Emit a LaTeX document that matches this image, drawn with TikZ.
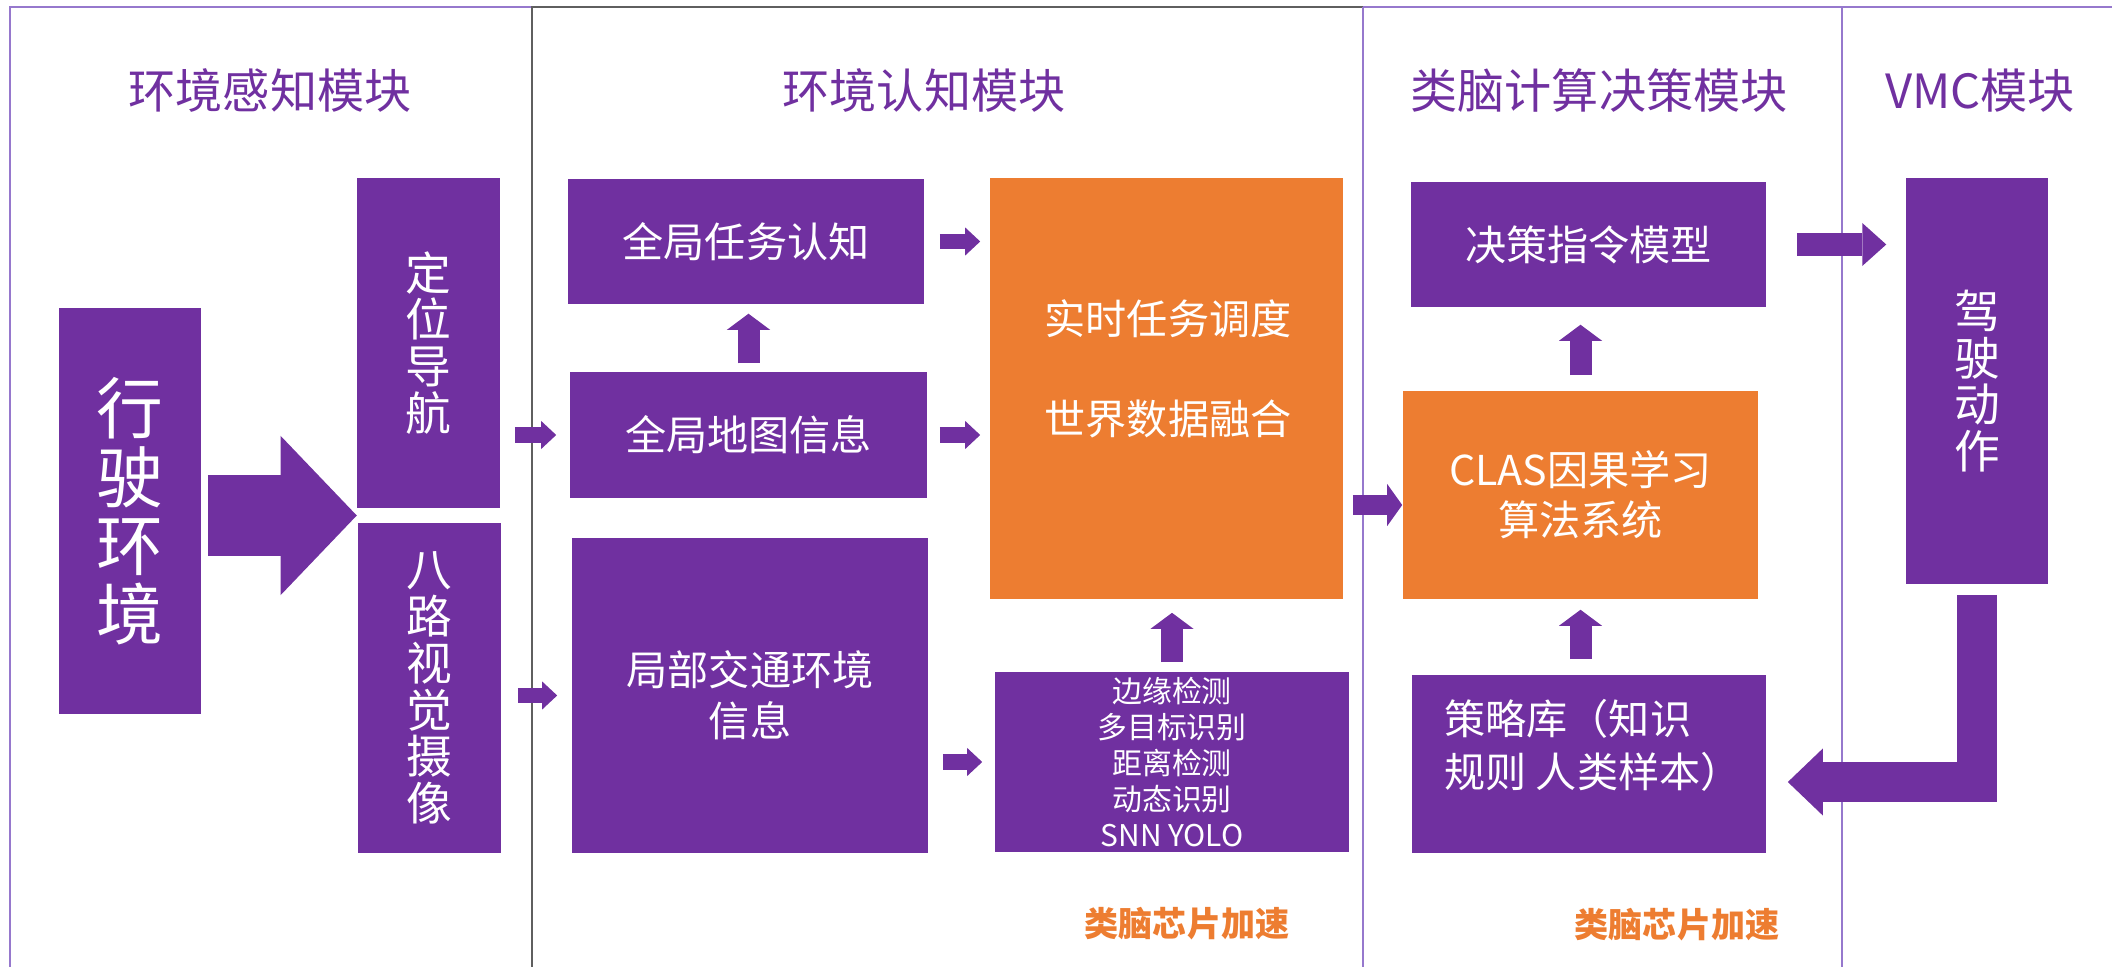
\documentclass[tikz,border=0pt]{standalone}
\usepackage{fontspec}
\setmainfont{Noto Sans CJK SC}
\usetikzlibrary{arrows.meta,calc}

\definecolor{boxpurple}{RGB}{112,48,160}
\definecolor{boxorange}{RGB}{237,125,49}
\definecolor{framepurple}{RGB}{150,120,205}
\definecolor{framegray}{RGB}{95,95,95}

\begin{document}
\begin{tikzpicture}[x=0.01cm,y=-0.01cm]
  \tikzset{
    pbox/.style={fill=boxpurple, text=white, inner sep=0pt, align=center},
    obox/.style={fill=boxorange, text=white, inner sep=0pt, align=center},
    modtitle/.style={text=boxpurple, font=\fontsize{13.4}{16}\selectfont},
    boxtext/.style={font=\fontsize{11.7}{14.5}\selectfont},
    vtext/.style={font=\fontsize{13}{13.3}\selectfont},
    chip/.style={text=boxorange, font=\bfseries\fontsize{9.7}{12}\selectfont},
    pframe/.style={draw=framepurple, line width=0.6pt},
    gframe/.style={draw=framegray, line width=0.6pt},
    sarrow/.style={draw=boxpurple, line width=0.15cm,
      -{Triangle[length=0.15cm,width=0.28cm,line width=0pt]}},
    uarrow/.style={draw=boxpurple, line width=0.22cm,
      -{Triangle[length=0.16cm,width=0.43cm,line width=0pt]}},
    marrow/.style={draw=boxpurple, line width=0.2cm,
      -{Triangle[length=0.15cm,width=0.42cm,line width=0pt]}},
    larrow/.style={draw=boxpurple, line width=0.23cm,
      -{Triangle[length=0.24cm,width=0.43cm,line width=0pt]}},
    bigarrow/.style={draw=boxpurple, line width=0.8cm,
      -{Triangle[length=0.76cm,width=1.59cm,line width=0pt]}},
    backarrow/.style={draw=boxpurple, line width=0.4cm, line join=miter,
      -{Triangle[length=0.35cm,width=0.67cm,line width=0pt]}}
  }
  \useasboundingbox (0,0) rectangle (2112,967);

  % Module frames
  \draw[pframe] (2112,7) -- (10,7) -- (10,967);
  \draw[gframe] (532,967) -- (532,7) -- (1363,7);
  \draw[pframe] (1363,7) -- (1363,967);
  \draw[pframe] (1842,7) -- (1842,967);

  % Module titles
  \node[modtitle] (t1) at (270,91) {环境感知模块};
  \node[modtitle] (t2) at (924,91) {环境认知模块};
  \node[modtitle] (t3) at (1599,91) {类脑计算决策模块};
  \node[modtitle] (t4) at (1980,91) {VMC模块};

  % Perception
  \node[pbox, minimum width=1.42cm, minimum height=4.06cm,
    font=\fontsize{19}{19.5}\selectfont] (drive) at (130,511) {行\\驶\\环\\境};
  \node[pbox, vtext, minimum width=1.43cm, minimum height=3.3cm] (locnav) at (428.5,343) {定\\位\\导\\航};
  \node[pbox, vtext, minimum width=1.43cm, minimum height=3.3cm] (camera) at (429.5,688) {八\\路\\视\\觉\\摄\\像};
  \coordinate (split) at ($(locnav.south west)!0.5!(camera.north west)$);

  % Cognition
  \node[pbox, boxtext, minimum width=3.56cm, minimum height=1.25cm] (gtask) at (746,241.5) {全局任务认知};
  \node[pbox, boxtext, minimum width=3.57cm, minimum height=1.26cm] (gmap) at (748.5,435) {全局地图信息};
  \node[pbox, boxtext, minimum width=3.56cm, minimum height=3.15cm] (local) at (750,695.5) {局部交通环境\\信息};
  \node[obox, minimum width=3.53cm, minimum height=4.21cm] (sched) at (1166.5,388.5) {};
  \node[text=white, align=center, font=\fontsize{11.7}{28.5}\selectfont] (schedtxt) at (1168,369) {实时任务调度\\世界数据融合};
  \node[pbox, minimum width=3.54cm, minimum height=1.8cm,
    font=\fontsize{8.5}{10.3}\selectfont] (detect) at (1172,762) {边缘检测\\多目标识别\\距离检测\\动态识别\\SNN YOLO};
  \node[chip] (chip1) at (1187,924) {类脑芯片加速};

  % Decision
  \node[pbox, boxtext, minimum width=3.55cm, minimum height=1.25cm] (cmd) at (1588.5,244.5) {决策指令模型};
  \node[obox, minimum width=3.55cm, minimum height=2.08cm,
    font=\fontsize{11.7}{14.2}\selectfont] (clas) at (1580.5,495) {CLAS因果学习\\算法系统};
  \node[pbox, minimum width=3.54cm, minimum height=1.78cm] (policy) at (1589,764) {};
  \node[text=white, align=left, font=\fontsize{11.7}{15}\selectfont] (policytxt) at (1593,745) {策略库（知识\\规则 人类样本）};
  \node[chip] (chip2) at (1677,925) {类脑芯片加速};

  % VMC
  \node[pbox, vtext, minimum width=1.42cm, minimum height=4.06cm] (act) at (1977,381) {驾\\驶\\动\\作};

  % Arrows
  \draw[bigarrow, shorten <=0.06cm] (drive.east |- split) -- (split);
  \draw[sarrow, shorten <=0.14cm, shorten >=0.13cm] (locnav.east |- gmap.west) -- (gmap.west);
  \draw[sarrow, shorten <=0.16cm, shorten >=0.14cm] (camera.east |- local.west) -- (local.west);
  \draw[uarrow, shorten <=0.08cm, shorten >=0.09cm] (gmap.north) -- (gmap.north |- gtask.south);
  \draw[sarrow, shorten <=0.15cm, shorten >=0.09cm] (gtask.east) -- (gtask.east -| sched.west);
  \draw[sarrow, shorten <=0.12cm, shorten >=0.09cm] (gmap.east) -- (gmap.east -| sched.west);
  \draw[sarrow, shorten <=0.14cm, shorten >=0.12cm] (detect.west -| local.east) -- (detect.west);
  \draw[uarrow, shorten <=0.09cm, shorten >=0.13cm] (detect.north) -- (detect.north |- sched.south);
  \coordinate (clasin) at ([yshift=-0.1cm]clas.west);
  \draw[marrow, shorten <=0.09cm] (clasin -| sched.east) -- (clasin);
  \draw[uarrow, shorten <=0.15cm, shorten >=0.17cm] (clas.north) -- (clas.north |- cmd.south);
  \draw[uarrow, shorten <=0.15cm, shorten >=0.1cm] (policy.north -| clas.south) -- (clas.south);
  \draw[larrow, shorten <=0.3cm, shorten >=0.19cm] (cmd.east) -- (cmd.east -| act.west);
  \coordinate (ret) at ([yshift=-0.18cm]policy.east);
  \draw[backarrow, shorten <=0.1cm, shorten >=0.21cm] (act.south) -- (act.south |- ret) -- (ret);
\end{tikzpicture}
\end{document}
